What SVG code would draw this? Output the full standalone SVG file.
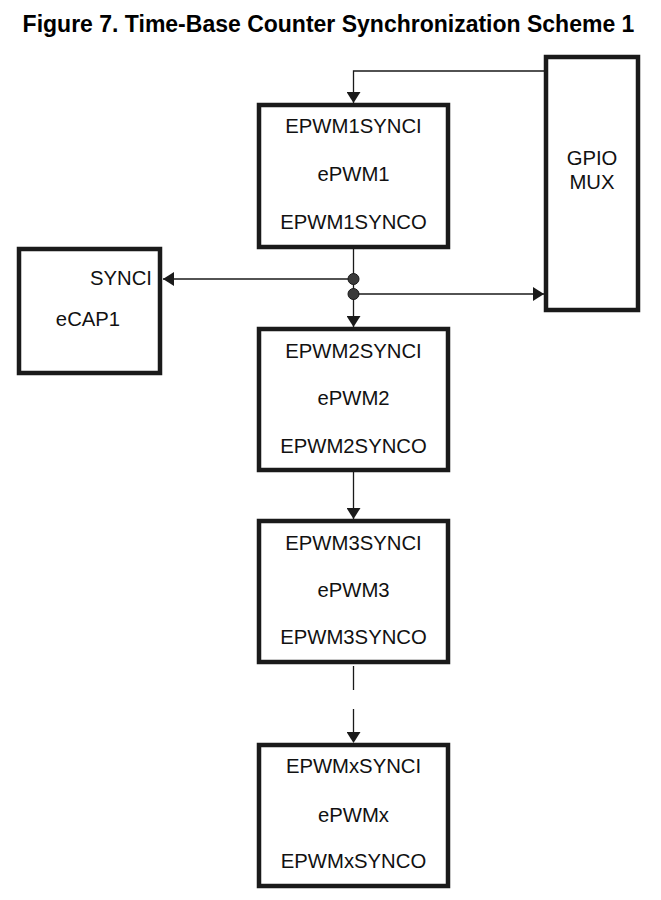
<svg xmlns="http://www.w3.org/2000/svg" width="661" height="900" viewBox="0 0 661 900">
<style>
  .box { fill: #ffffff; stroke: #1a1a1a; stroke-width: 4.5; }
  .lbl { font-family: "Liberation Sans", Arial, sans-serif; font-size: 20.3px; fill: #111111; text-anchor: middle; }
  .title { font-family: "Liberation Sans", Arial, sans-serif; font-size: 23px; font-weight: bold; fill: #000000; text-anchor: middle; }
  .wire { fill: none; stroke: #1a1a1a; stroke-width: 1.3; }
  .dot { fill: #3a3a3a; stroke: #1a1a1a; stroke-width: 1; }
</style>
<defs>
  <marker id="arr" markerUnits="userSpaceOnUse" markerWidth="12" markerHeight="14" refX="11" refY="7" orient="auto">
    <path d="M0,0 L11,7 L0,14 Z" fill="#1a1a1a"/>
  </marker>
</defs>
<rect width="661" height="900" fill="#ffffff"/>
<text class="title" x="328.5" y="32">Figure 7. Time-Base Counter Synchronization Scheme 1</text>

<g id="connectors">
  <path class="wire" d="M544,71 H353.5 V103" marker-end="url(#arr)"/>
  <path class="wire" d="M353.5,249 V327" marker-end="url(#arr)"/>
  <path class="wire" d="M353.5,279 H163" marker-end="url(#arr)"/>
  <path class="wire" d="M353.5,294 H544" marker-end="url(#arr)"/>
  <path class="wire" d="M353.5,472 V519" marker-end="url(#arr)"/>
  <path class="wire" d="M353.5,666 V743" stroke-dasharray="24 19" marker-end="url(#arr)"/>
  <circle class="dot" cx="353.5" cy="279" r="5.5"/>
  <circle class="dot" cx="353.5" cy="294" r="5.5"/>
</g>

<g id="gpiomux">
  <rect class="box" x="546" y="57" width="92" height="253"/>
  <text class="lbl" x="592" y="165">GPIO</text>
  <text class="lbl" x="592" y="189">MUX</text>
</g>

<g id="ecap1">
  <rect class="box" x="19" y="249" width="141" height="124"/>
  <text class="lbl" x="152" y="285" style="text-anchor:end">SYNCI</text>
  <text class="lbl" x="88" y="326">eCAP1</text>
</g>

<g id="epwm1">
  <rect class="box" x="259" y="105" width="189" height="142"/>
  <text class="lbl" x="353.5" y="133">EPWM1SYNCI</text>
  <text class="lbl" x="353.5" y="181">ePWM1</text>
  <text class="lbl" x="353.5" y="229">EPWM1SYNCO</text>
</g>

<g id="epwm2">
  <rect class="box" x="259" y="329" width="189" height="141"/>
  <text class="lbl" x="353.5" y="358">EPWM2SYNCI</text>
  <text class="lbl" x="353.5" y="405">ePWM2</text>
  <text class="lbl" x="353.5" y="453">EPWM2SYNCO</text>
</g>

<g id="epwm3">
  <rect class="box" x="259" y="521" width="189" height="141"/>
  <text class="lbl" x="353.5" y="550">EPWM3SYNCI</text>
  <text class="lbl" x="353.5" y="597">ePWM3</text>
  <text class="lbl" x="353.5" y="644">EPWM3SYNCO</text>
</g>

<g id="epwmx">
  <rect class="box" x="259" y="745" width="189" height="141"/>
  <text class="lbl" x="353.5" y="773">EPWMxSYNCI</text>
  <text class="lbl" x="353.5" y="822">ePWMx</text>
  <text class="lbl" x="353.5" y="868">EPWMxSYNCO</text>
</g>
</svg>
